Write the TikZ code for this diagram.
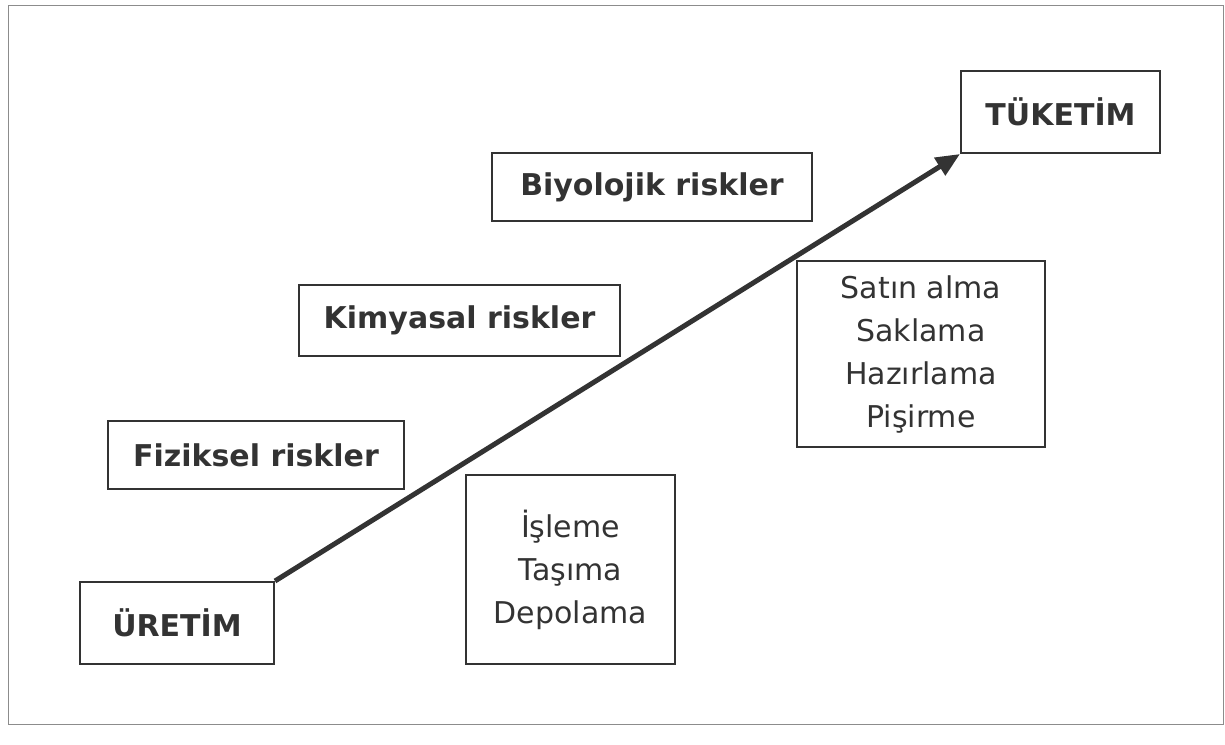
\documentclass[tikz,border=0pt]{standalone}
\usepackage{fontspec}
\setmainfont{DejaVu Sans}
\usetikzlibrary{arrows.meta}
\definecolor{ink}{HTML}{333333}
\definecolor{framegray}{HTML}{8C8C8C}
\tikzset{
  box/.style={draw=ink,line width=2pt,inner sep=0pt,text=ink,align=center,
    font=\fontsize{30}{43}\selectfont},
  boldbox/.style={box,font=\fontsize{30}{43}\selectfont\bfseries},
  flow/.style={draw=ink,line width=5pt,-{Triangle[length=24pt,width=20pt]}}
}
\begin{document}
\begin{tikzpicture}[x=1pt,y=-1pt]
\useasboundingbox (0,0) rectangle (1225,744);
\draw[framegray,line width=1pt] (8,5) rectangle (1223,724);

\node[boldbox,minimum width=194pt,minimum height=82pt] (uretim) at (177,623) {ÜRETİM};
\node[boldbox,minimum width=199pt,minimum height=82pt] (tuketim) at (1060.5,112) {TÜKETİM};

\node[boldbox,minimum width=296pt,minimum height=68pt] (fiziksel) at (256,455) {Fiziksel riskler};
\node[boldbox,minimum width=321pt,minimum height=71pt] (kimyasal) at (459.5,320.5) {Kimyasal riskler};
\node[boldbox,minimum width=320pt,minimum height=68pt] (biyolojik) at (652,187) {Biyolojik riskler};

\node[box,minimum width=209pt,minimum height=189pt] (isleme) at (570.5,569.5) {İşleme\\Taşıma\\Depolama};
\node[box,minimum width=248pt,minimum height=186pt] (satin) at (921,354) {Satın alma\\Saklama\\Hazırlama\\Pişirme};

\draw[flow] (uretim.north east) -- (tuketim.south west);
\end{tikzpicture}
\end{document}
